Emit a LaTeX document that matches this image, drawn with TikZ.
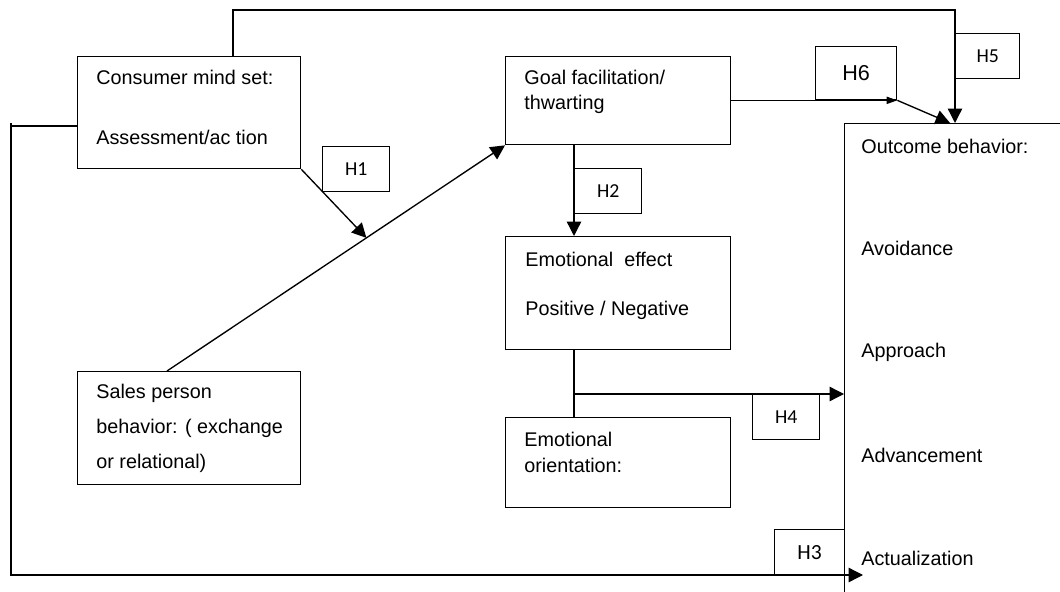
\documentclass[tikz,border=0pt]{standalone}
\usepackage{fontspec}
\setmainfont{Liberation Sans}
\newfontfamily\hfont{Carlito}
\usetikzlibrary{arrows.meta,calc}
\newcommand\px{0.556pt}
\tikzset{
  box/.style={draw,line width=0.75pt,anchor=north west,inner sep=0pt},
  txt/.style={anchor=west,inner sep=0pt,font=\fontsize{11}{13}\selectfont},
  hyp/.style={box,font=\hfont\fontsize{11}{13}\selectfont},
  link/.style={line width=0.75pt}
}
\begin{document}
\begin{tikzpicture}[x=\px,y=-\px,>={Triangle[length=8pt,width=8pt]}]
\useasboundingbox (0,0) rectangle (1060,592);
% boxes
\node[box,minimum width=223*\px,minimum height=112*\px] (cms) at (77,56) {};
\node[box,minimum width=225*\px,minimum height=88*\px] (goal) at (505,56) {};
\node[box,minimum width=225*\px,minimum height=113*\px] (emo) at (505,236) {};
\node[box,minimum width=225*\px,minimum height=90*\px] (ori) at (505,417) {};
\node[box,minimum width=223*\px,minimum height=113*\px] (sales) at (77,371) {};
\node[box,minimum width=300*\px,minimum height=520*\px] (out) at (844,123) {};
% texts
\node[txt] (cmsA) at (96,77) {Consumer mind set:};
\node[txt] (cmsB) at (96,137) {Assessment/ac tion};
\node[txt] (goalA) at (524,77) {Goal facilitation/};
\node[txt] (goalB) at (524,104) {thwarting};
\node[txt] (emoA) at (525,259) {Emotional\ \ effect};
\node[txt] (emoB) at (525,310) {Positive / Negative};
\node[txt] (oriA) at (524,439) {Emotional};
\node[txt] (oriB) at (524,465) {orientation:};
\node[txt] (salesA) at (96,393) {Sales person};
\node[txt] (salesB) at (96,428) {behavior: ( exchange};
\node[txt] (salesC) at (96,463) {or relational)};
\node[txt] (outA) at (861,146) {Outcome behavior:};
\node[txt] (outB) at (861,248) {Avoidance};
\node[txt] (outC) at (861,352) {Approach};
\node[txt] (outD) at (861,455) {Advancement};
\node[txt] (outE) at (861,558) {Actualization};
% hypotheses
\node[hyp,minimum width=67*\px,minimum height=45*\px] (H1) at (322,146) {H1};
\node[hyp,minimum width=67*\px,minimum height=45*\px] (H2) at (574,168) {H2};
\node[hyp,minimum width=81*\px,minimum height=53*\px,font=\fontsize{12}{14}\selectfont] (H6) at (815,46) {H6};
\node[hyp,minimum width=64*\px,minimum height=45*\px] (H5) at (955,33) {H5};
\node[hyp,minimum width=67*\px,minimum height=45*\px] (H4) at (752,394) {H4};
\node[hyp,minimum width=70*\px,minimum height=46*\px,font=\hfont\fontsize{12}{14}\selectfont] (H3) at (774,529) {H3};
% connectors
\coordinate (topL) at (233,10);
\coordinate (topR) at (955,10);
\coordinate (leftT) at (11,126);
\coordinate (leftB) at (11,575);
\coordinate (actz) at (863,575);
\coordinate (sp) at (167,371);
\coordinate (o6) at (950,123);
\coordinate (hit) at ($(sp)!0.59!(goal.south west)$);
\draw[link,->] (cms.north -| topL) -- (topL) -- (topR) -- (out.north -| topR);
\draw[link] (11,123) -- (leftT) -- (cms.west |- leftT);
\draw[link,->] (leftT) -- (leftB) -- (actz);
\draw[link,->] (sp) -- (goal.south west);
\draw[link,->] (cms.south east) -- (hit);
\draw[link,->] (goal.south -| H2.west) -- (emo.north -| H2.west);
\draw[link,-{Triangle[length=6pt,width=4pt]}] (goal.east |- H6.south) -- (H6.south east);
\draw[link,->] (H6.south east) -- (o6);
\draw[link] (emo.south -| H2.west) -- (ori.north -| H2.west);
\draw[link,->] (H2.west |- H4.north) -- (out.west |- H4.north);
\end{tikzpicture}
\end{document}
